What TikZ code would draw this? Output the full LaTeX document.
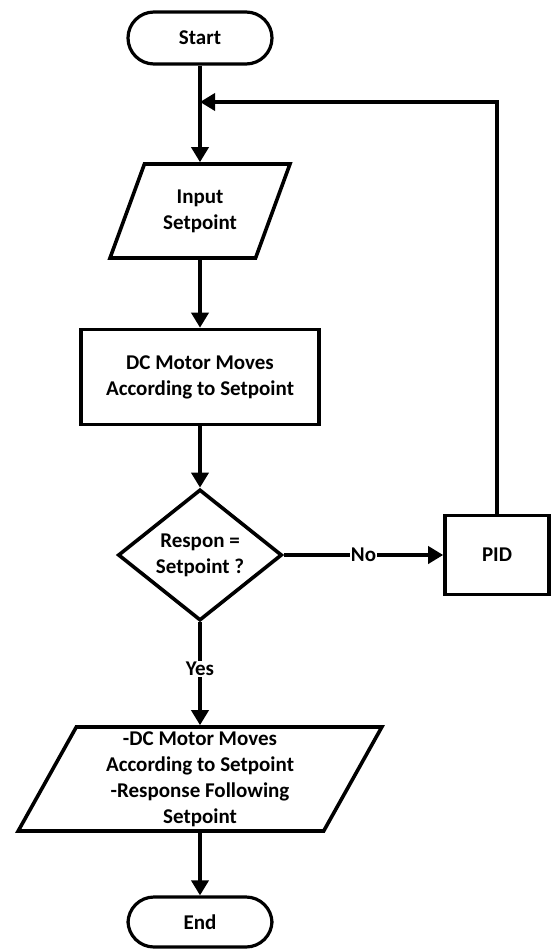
\documentclass[tikz,border=0pt]{standalone}
\usepackage{fontspec}
\setmainfont{Carlito}
\usetikzlibrary{arrows.meta,shapes.geometric}

\tikzset{
  line/.style={line width=3.6pt,-{Triangle[length=15pt,width=17pt]}},
  term/.style={draw,line width=3.2pt,rounded corners=26pt,minimum width=144pt,minimum height=52pt},
  io/.style={draw,line width=3.6pt,trapezium,trapezium left angle=62,trapezium right angle=118,trapezium stretches=true,align=center,inner sep=0pt},
  proc/.style={draw,line width=3.6pt,align=center},
  decide/.style={draw,line width=3.6pt,diamond,align=center,inner sep=0pt},
  lbl/.style={fill=white,inner sep=1pt}
}

\begin{document}
\begin{tikzpicture}[x=1pt,y=-1pt,font=\bfseries\fontsize{21}{26}\selectfont]
			\useasboundingbox (0,0) rectangle (552,949);
			\node[term] (start) at (200,38) {Start};
			\node[io,minimum width=180pt,minimum height=94pt] (input) at (200,211) {Input\\Setpoint};
			\node[proc,minimum width=238pt,minimum height=95pt] (dc) at (200,377) {DC Motor Moves\\According to Setpoint};
			\node[decide,minimum width=164pt,minimum height=121pt] (check) at (200,555) {Respon =\\Setpoint ?};
			\node[proc,minimum width=104pt,minimum height=79pt] (pid) at (497,555) {PID};
			\node[io,minimum width=364pt,minimum height=104pt,inner ysep=-6pt] (out) at (200,779) {-DC Motor Moves\\According to Setpoint\\-Response Following\\Setpoint};
			\node[term,minimum height=50pt] (end) at (200,922) {End};
			\coordinate (join) at (200,102);
			\draw[line] (start) -- (input);
			\draw[line] (pid) |- (join);
			\draw[line] (input) -- (dc);
			\draw[line] (dc) -- (check);
			\draw[line] (check) -- node[lbl] {No} (pid);
			\draw[line] (check) -- node[lbl,pos=0.45] {Yes} (out);
			\draw[line] (out) -- (end);
			\end{tikzpicture}
\end{document}
